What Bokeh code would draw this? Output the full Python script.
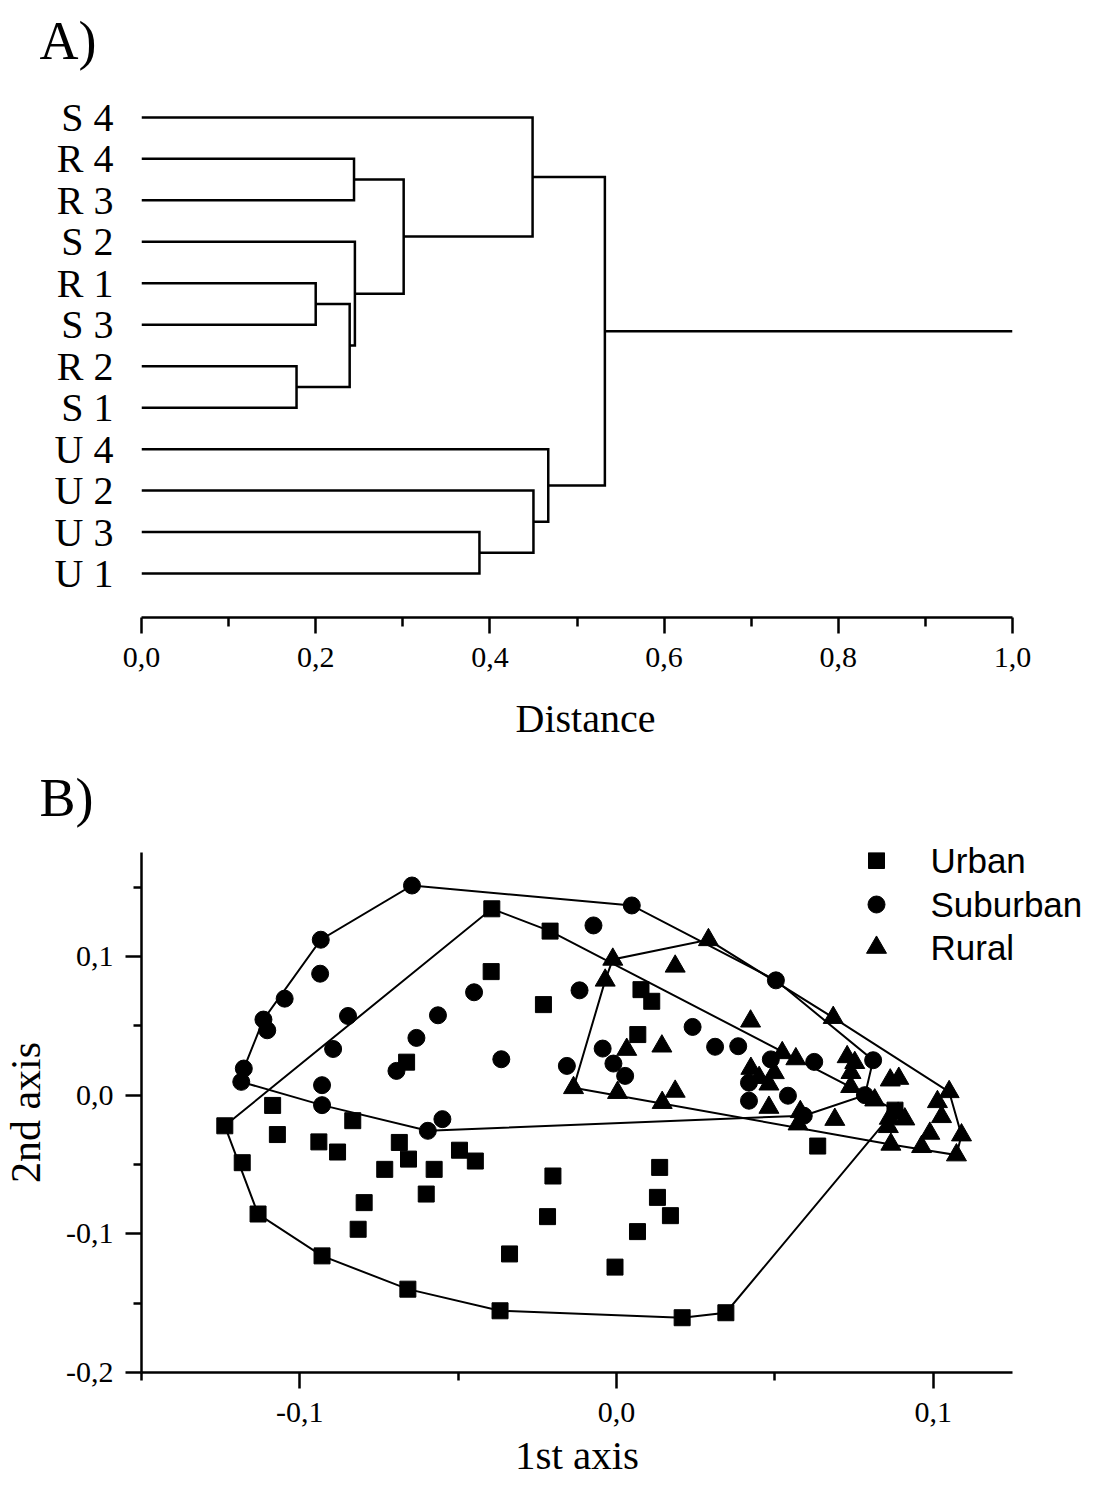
from bokeh.plotting import figure
from bokeh.models import Range1d, FixedTicker, CustomJSTickFormatter, Title, LinearAxis
from bokeh.layouts import column
from bokeh.embed import file_html
from bokeh.resources import INLINE

# ---------------- Panel A data: dendrogram ----------------
leaf_labels = ["S 4", "R 4", "R 3", "S 2", "R 1", "S 3", "R 2", "S 1",
               "U 4", "U 2", "U 3", "U 1"]
merge_pairs = [("R 4", "R 3"), ("R 1", "S 3"), ("R 2", "S 1"), ("n1", "n2"),
               ("S 2", "n3"), ("n0", "n4"), ("S 4", "n5"), ("U 3", "U 1"),
               ("U 2", "n7"), ("U 4", "n8"), ("n6", "n9")]
merge_heights = [0.244, 0.200, 0.178, 0.239, 0.245, 0.301, 0.449,
                 0.388, 0.450, 0.467, 0.532]
dist_ticks = [0.0, 0.2, 0.4, 0.6, 0.8, 1.0]
dist_minor = [0.1, 0.3, 0.5, 0.7, 0.9]

# ---------------- Panel B data: ordination ----------------
urban_x = [-0.1237, -0.1182, -0.1132, -0.0930, -0.0659, -0.0368, 0.0207, 0.0345,
           -0.0394, -0.0210, -0.0396, -0.0231, -0.0663, 0.0077, 0.0111, 0.0067,
           -0.1086, -0.1071, -0.0833, -0.0940, -0.0881, -0.0686, -0.0657, -0.0732,
           -0.0576, -0.0496, -0.0446, -0.0797, -0.0816, -0.0601, -0.0201, -0.0218,
           -0.0338, 0.0136, 0.0129, 0.0170, 0.0066, -0.0005, 0.0635, 0.0879]
urban_y = [-0.0221, -0.0487, -0.0857, -0.1159, -0.1399, -0.1555, -0.1605, -0.1569,
           0.1344, 0.1183, 0.0891, 0.0653, 0.0238, 0.0761, 0.0677, 0.0437,
           -0.0074, -0.0284, -0.0184, -0.0337, -0.0410, -0.0341, -0.0461, -0.0535,
           -0.0535, -0.0397, -0.0475, -0.0775, -0.0967, -0.0713, -0.0583, -0.0876,
           -0.1145, -0.0521, -0.0737, -0.0869, -0.0984, -0.1240, -0.0367, -0.0108]

suburban_x = [-0.0646, -0.0934, -0.0936, -0.1048, -0.1115, -0.1103, -0.0848, -0.0895,
              -0.1177, -0.1185, -0.0930, -0.0930, -0.0596, -0.0550, -0.0695, -0.0632,
              -0.0564, -0.0450, -0.0364, 0.0048, -0.0073, -0.0117, -0.0157, 0.0240,
              0.0311, 0.0384, -0.0044, -0.0010, 0.0027, 0.0503, 0.0487, 0.0418,
              0.0418, 0.0624, 0.0810, 0.0784, 0.0541, 0.0591]
suburban_y = [0.1512, 0.1121, 0.0876, 0.0696, 0.0545, 0.0468, 0.0571, 0.0333,
              0.0192, 0.0096, 0.0072, -0.0072, -0.0257, -0.0173, 0.0175, 0.0413,
              0.0576, 0.0742, 0.0259, 0.1368, 0.1224, 0.0756, 0.0211, 0.0492,
              0.0349, 0.0353, 0.0336, 0.0228, 0.0139, 0.0828, 0.0258, 0.0090,
              -0.0040, 0.0240, 0.0252, 0.0000, -0.0004, -0.0148]

rural_x = [0.0290, -0.0012, 0.0185, -0.0036, 0.0423, 0.0032, 0.0143, -0.0136,
           0.0003, 0.0144, 0.0185, 0.0424, 0.0450, 0.0481, 0.0481, 0.0498,
           0.0684, 0.0523, 0.0566, 0.0728, 0.0752, 0.0740, 0.0739, 0.0864,
           0.0891, 0.0815, 0.0580, 0.0573, 0.0689, 0.0861, 0.0889, 0.0910,
           0.0858, 0.1050, 0.1013, 0.1026, 0.1089, 0.0989, 0.0963, 0.0866, 0.1073]
rural_y = [0.1120, 0.0979, 0.0929, 0.0828, 0.0533, 0.0329, 0.0353, 0.0053,
           0.0018, -0.0054, 0.0027, 0.0192, 0.0126, 0.0079, -0.0089, 0.0161,
           0.0559, 0.0305, 0.0261, 0.0276, 0.0234, 0.0162, 0.0061, 0.0108,
           0.0120, -0.0036, -0.0120, -0.0209, -0.0176, -0.0168, -0.0132, -0.0173,
           -0.0228, 0.0024, -0.0048, -0.0156, -0.0288, -0.0276, -0.0372, -0.0355, -0.0432]

group_names = ["Urban", "Suburban", "Rural"]
group_markers = ["square", "circle", "triangle"]
ord_xticks = [-0.1, 0.0, 0.1]
ord_xminor = [-0.15, -0.05, 0.05]
ord_yticks = [-0.2, -0.1, 0.0, 0.1]
ord_yminor = [-0.15, -0.05, 0.05, 0.15]
ord_xrange = (-0.15, 0.125)
ord_yrange = (-0.2, 0.175)

SERIF = "Liberation Serif"
SANS = "Liberation Sans"
comma_fmt = CustomJSTickFormatter(code="return tick.toFixed(1).replace('.', ',');")


def style_axis(axis, minor_out):
    axis.formatter = comma_fmt
    axis.axis_line_color = "black"
    axis.axis_line_width = 2.5
    axis.major_tick_line_color = "black"
    axis.minor_tick_line_color = "black"
    axis.major_tick_line_width = 2.5
    axis.minor_tick_line_width = 2.5
    axis.major_tick_in = 0
    axis.major_tick_out = 16
    axis.minor_tick_in = 0
    axis.minor_tick_out = minor_out
    axis.major_label_text_font = SERIF
    axis.major_label_text_font_size = "30px"
    axis.major_label_text_color = "black"
    axis.axis_label_text_font = SERIF
    axis.axis_label_text_font_style = "normal"
    axis.axis_label_text_color = "black"


def style_title(t, text, offset, standoff, size):
    t.text = text
    t.align = "left"
    t.offset = offset
    t.standoff = standoff
    t.text_font = SERIF
    t.text_font_size = size
    t.text_font_style = "normal"
    t.text_color = "black"


# ================= Panel A =================
nleaf = len(leaf_labels)
pos = {lab: (0.0, float(nleaf - 1 - i)) for i, lab in enumerate(leaf_labels)}
xs_list, ys_list = [], []
for k, ((a, b), h) in enumerate(zip(merge_pairs, merge_heights)):
    ha, ya = pos[a]
    hb, yb = pos[b]
    xs_list.append([ha, h, h, hb])
    ys_list.append([ya, ya, yb, yb])
    pos["n%d" % k] = (h, (ya + yb) / 2.0)
root_h, root_y = pos["n%d" % (len(merge_pairs) - 1)]
xs_list.append([root_h, dist_ticks[-1]])
ys_list.append([root_y, root_y])

pA = figure(frame_width=871, frame_height=542,
            x_range=Range1d(dist_ticks[0], dist_ticks[-1]), y_range=Range1d(-1.06, 12.01),
            min_border_left=139, min_border_right=72, min_border_top=75, min_border_bottom=200,
            output_backend="svg", toolbar_location=None)
pA.multi_line(xs_list, ys_list, line_color="black", line_width=2.5, line_join="miter")
pA.grid.visible = False
pA.outline_line_color = None
style_title(pA.title, "A)", -102, 10, "54px")

ax = pA.xaxis[0]
ax.ticker = FixedTicker(ticks=dist_ticks, minor_ticks=dist_minor)
style_axis(ax, 9)
ax.major_label_standoff = 14
t_dist = Title()
style_title(t_dist, "Distance", 374, 48, "40px")
pA.add_layout(t_dist, "below")
t_b = Title()
style_title(t_b, "B)", -102, 2, "54px")
pA.add_layout(t_b, "below")

ay = pA.yaxis[0]
ay.ticker = FixedTicker(ticks=list(range(nleaf)))
ay.formatter = CustomJSTickFormatter(args=dict(labels=leaf_labels),
                                     code="return labels[labels.length - 1 - Math.round(tick)];")
ay.axis_line_color = None
ay.major_tick_line_color = None
ay.minor_tick_line_color = None
ay.major_tick_out = 0
ay.major_tick_in = 0
ay.major_label_text_font = SERIF
ay.major_label_text_font_size = "40px"
ay.major_label_text_color = "black"
ay.major_label_standoff = 28


# ================= Panel B =================
def convex_hull(xs, ys):
    pts = sorted(set(zip(xs, ys)))

    def cross(o, a, b):
        return (a[0] - o[0]) * (b[1] - o[1]) - (a[1] - o[1]) * (b[0] - o[0])
    lower = []
    for p in pts:
        while len(lower) >= 2 and cross(lower[-2], lower[-1], p) <= 0:
            lower.pop()
        lower.append(p)
    upper = []
    for p in reversed(pts):
        while len(upper) >= 2 and cross(upper[-2], upper[-1], p) <= 0:
            upper.pop()
        upper.append(p)
    h = lower[:-1] + upper[:-1]
    h.append(h[0])
    return [q[0] for q in h], [q[1] for q in h]


FW, FH = 871, 520
x_per_px = (ord_xrange[1] - ord_xrange[0]) / FW
y_per_px = (ord_yrange[1] - ord_yrange[0]) / FH

pB = figure(frame_width=FW, frame_height=FH, title=None,
            x_range=Range1d(*ord_xrange), y_range=Range1d(*ord_yrange),
            min_border_left=139, min_border_right=72, min_border_top=24, min_border_bottom=100,
            output_backend="svg", toolbar_location=None)
pB.grid.visible = False
pB.outline_line_color = None

groups = [(urban_x, urban_y), (suburban_x, suburban_y), (rural_x, rural_y)]
hx, hy = [], []
for gx, gy in groups:
    a, b = convex_hull(gx, gy)
    hx.append(a)
    hy.append(b)
pB.multi_line(hx, hy, line_color="black", line_width=2, line_join="miter")

sizes = {"square": 16, "circle": 17, "triangle": 20}
for (gx, gy), mk in zip(groups, group_markers):
    pB.scatter(gx, gy, marker=mk, size=sizes[mk], fill_color="black", line_color="black")

# legend (upper-right corner): markers in the frame, names as right-axis labels
lx = ord_xrange[0] + 735.0 * x_per_px
ly = [ord_yrange[1] - d * y_per_px for d in (8.0, 52.0, 95.0)]
for mk, yy in zip(group_markers, ly):
    pB.scatter([lx], [yy], marker=mk, size=sizes[mk], fill_color="black", line_color="black")
leg_axis = LinearAxis(ticker=FixedTicker(ticks=ly, minor_ticks=[]),
                      formatter=CustomJSTickFormatter(args=dict(names=group_names, tvals=ly), code="""
let best = 0;
for (let i = 0; i < tvals.length; i++) {
  if (Math.abs(tvals[i] - tick) < Math.abs(tvals[best] - tick)) best = i;
}
return names[best];
"""))
leg_axis.axis_line_color = None
leg_axis.major_tick_line_color = None
leg_axis.minor_tick_line_color = None
leg_axis.major_tick_in = 0
leg_axis.major_tick_out = 0
leg_axis.minor_tick_in = 0
leg_axis.minor_tick_out = 0
leg_axis.major_label_standoff = -82
leg_axis.major_label_text_font = SANS
leg_axis.major_label_text_font_size = "35px"
leg_axis.major_label_text_color = "black"
pB.add_layout(leg_axis, "right")

bx = pB.xaxis[0]
bx.ticker = FixedTicker(ticks=ord_xticks, minor_ticks=ord_xminor)
by = pB.yaxis[0]
by.ticker = FixedTicker(ticks=ord_yticks, minor_ticks=ord_yminor)
style_axis(bx, 8)
style_axis(by, 8)
bx.major_label_standoff = 14
bx.axis_label = "1st axis"
bx.axis_label_text_font_size = "41px"
bx.axis_label_standoff = 7
by.major_label_standoff = 12
by.axis_label = "2nd axis"
by.axis_label_text_font_size = "42px"
by.axis_label_standoff = 14

layout = column(pA, pB)
open("out.html", "w").write(file_html(layout, INLINE))
